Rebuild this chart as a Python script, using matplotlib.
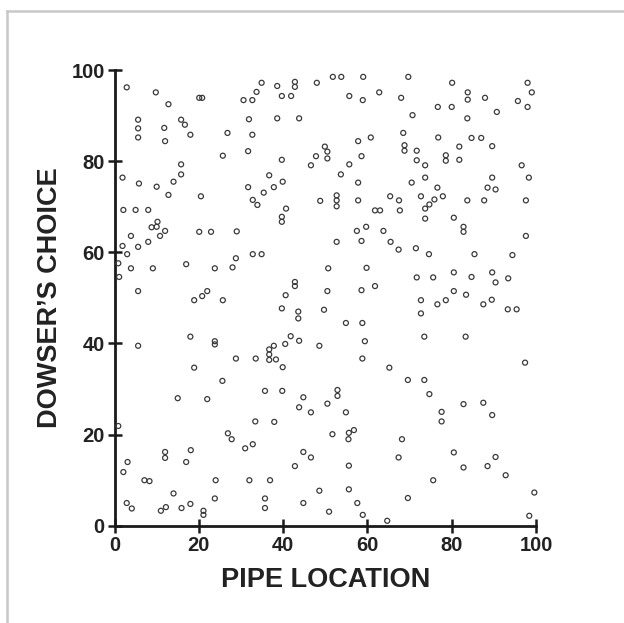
import matplotlib
matplotlib.use("Agg")
import matplotlib.pyplot as plt
from matplotlib.lines import Line2D

# pipe location (x) and dowser's choice (y)
pipe_location = [
    2.9, 9.8, 12.8, 20.1, 20.8, 30.6, 32.7,
    5.6, 5.6, 5.6, 11.8, 12.0, 15.8, 16.7, 18.0, 26.8, 32.7, 31.9, 25.7, 31.7,
    15.8, 15.8, 1.9, 5.8, 10.0, 14.0, 12.8, 20.5, 31.7, 32.8, 2.1, 5.0, 8.0,
    10.2, 8.8, 10.0, 12.0, 20.1, 22.9, 29.0,
    3.9, 10.8, 8.0, 5.6, 1.9, 3.0, 0.9, 3.9, 9.1, 1.1, 17.0, 23.8, 28.0, 28.8,
    32.8, 5.6, 18.9, 20.8, 22.0, 25.7, 5.6, 18.0, 23.8, 23.8, 28.8, 33.5,
    18.9, 25.6,
    15.0, 22.0, 0.9, 33.4, 26.9, 27.8, 31.0, 32.8, 12.0, 12.0, 18.1, 17.0,
    3.1, 2.1, 7.1, 8.3, 24.0, 32.0, 14.0, 23.8, 2.9, 4.1, 11.0, 12.2, 15.9,
    18.0, 21.1, 21.1,
    34.9, 38.6, 42.8, 42.8, 48.0, 51.8, 53.8, 59.0, 33.7, 39.7, 41.9, 55.7,
    58.9, 62.8, 38.6, 43.8, 57.8, 60.8, 49.9, 50.5, 50.5, 47.8, 46.6, 58.6,
    55.7, 53.7, 39.7, 57.8, 36.7, 39.9, 37.8, 35.4, 33.9, 40.7, 39.7, 39.7,
    48.8, 52.7, 52.7, 52.7, 57.8, 65.4, 67.5, 61.8, 63.0, 57.5, 59.7, 63.8,
    52.7, 58.6, 65.5, 67.4, 34.9, 50.7, 59.8, 42.8, 42.8, 40.6, 50.5, 58.6,
    61.8, 39.7, 43.6, 43.6, 49.7, 54.9, 58.8, 41.8, 43.8, 40.5, 37.8, 36.7,
    36.7, 36.7, 38.3, 48.6, 59.4, 58.8, 39.9, 65.2,
    35.7, 39.8, 44.8, 43.8, 46.6, 52.9, 52.9, 50.5, 54.9, 37.9, 51.7, 55.6,
    56.8, 55.5, 44.8, 46.6, 42.8, 55.6, 36.9, 48.6, 55.6, 35.7, 35.7, 44.8,
    57.6, 50.9, 58.9, 64.7,
    69.7, 80.1, 98.0, 99.0, 83.8, 83.8, 87.9, 68.0, 76.7, 80.0, 95.7, 98.0,
    90.7, 70.7, 83.7, 68.5, 76.8, 84.7, 87.0, 68.8, 68.8, 71.7, 71.7, 73.7,
    81.8, 81.8, 78.6, 78.6, 89.6, 96.6, 98.3, 89.6, 73.7, 70.5, 76.6, 88.5,
    90.4, 77.9, 75.9, 74.7, 73.7, 72.7, 67.7, 83.7, 87.7, 97.6, 73.7, 80.5,
    82.8, 82.8, 97.6,
    71.5, 74.6, 85.4, 94.4, 71.7, 75.6, 80.5, 84.7, 89.6, 90.4, 93.4, 72.7,
    72.7, 76.6, 78.6, 80.5, 83.4, 87.5, 89.5, 93.3, 95.4, 73.5, 83.3, 97.4,
    69.6, 73.5,
    74.7, 82.8, 87.5, 77.6, 77.6, 89.6, 68.2, 67.4, 80.5, 82.8, 88.5, 90.4,
    92.8, 75.6, 69.6, 99.6, 98.4,
]
dowser_choice = [
    96.2, 95.1, 92.5, 93.9, 93.9, 93.4, 93.4,
    89.1, 87.2, 85.2, 87.3, 84.4, 89.1, 88.0, 85.8, 86.2, 85.8, 89.2, 81.2, 82.2,
    79.3, 77.1, 76.4, 75.1, 74.4, 75.5, 72.6, 72.3, 74.3, 71.5, 69.3, 69.3, 69.3,
    66.7, 65.5, 65.6, 64.7, 64.5, 64.5, 64.6,
    63.6, 63.6, 62.3, 61.2, 61.4, 59.6, 57.6, 56.5, 56.5, 54.6, 57.4, 56.5, 56.7, 58.7,
    59.6, 51.5, 49.5, 50.4, 51.5, 49.5, 39.5, 41.5, 39.8, 40.5, 36.7, 36.7,
    34.7, 31.8,
    28.0, 27.8, 21.9, 22.9, 20.3, 19.0, 17.0, 17.9, 16.2, 14.9, 16.6, 14.0,
    14.0, 11.8, 10.0, 9.8, 10.0, 10.0, 7.1, 6.0, 5.0, 3.8, 3.3, 4.1, 3.9,
    4.8, 3.3, 2.4,
    97.2, 96.5, 97.4, 96.3, 97.2, 98.5, 98.5, 98.5, 95.2, 94.3, 94.3, 94.3,
    93.4, 95.1, 89.4, 89.4, 84.4, 85.2, 83.2, 82.1, 80.6, 81.1, 79.1, 81.1,
    79.3, 77.1, 80.3, 75.3, 76.9, 75.5, 74.3, 73.1, 70.4, 69.6, 67.8, 66.7,
    71.3, 72.5, 71.4, 70.1, 71.4, 72.3, 71.4, 69.2, 69.2, 64.7, 65.6, 64.7,
    62.3, 62.5, 62.3, 60.6, 59.6, 56.5, 56.6, 53.5, 52.6, 50.6, 51.5, 51.7,
    52.6, 47.7, 47.0, 45.5, 47.4, 44.5, 44.5, 41.6, 40.6, 39.9, 39.5, 38.7,
    37.6, 36.4, 36.5, 39.5, 40.5, 36.7, 34.8, 34.7,
    29.6, 29.6, 28.2, 26.0, 24.9, 29.8, 28.5, 26.8, 24.9, 22.8, 20.1, 20.4,
    21.0, 19.0, 16.2, 15.0, 13.1, 13.2, 10.0, 7.7, 8.0, 6.0, 3.9, 5.0,
    5.0, 3.1, 2.4, 1.1,
    98.5, 97.2, 97.2, 95.1, 95.1, 93.5, 93.9, 93.9, 91.9, 91.9, 93.2, 91.9,
    90.8, 90.1, 89.4, 86.2, 85.2, 85.1, 85.1, 83.5, 82.3, 82.3, 80.2, 79.1,
    83.2, 80.3, 81.3, 80.1, 83.3, 79.1, 76.4, 76.4, 76.4, 75.3, 74.2, 74.2,
    73.8, 72.3, 71.6, 70.5, 69.6, 72.3, 69.2, 71.4, 71.4, 71.4, 67.4, 67.6,
    65.6, 64.5, 63.6,
    60.9, 59.6, 59.6, 59.4, 54.5, 54.5, 55.6, 54.6, 55.6, 53.4, 54.3, 49.5,
    46.6, 48.6, 49.5, 51.5, 50.7, 48.6, 49.6, 47.5, 47.5, 41.5, 41.5, 35.8,
    32.0, 32.0,
    28.9, 26.7, 27.0, 25.0, 22.9, 24.3, 19.0, 15.0, 16.1, 12.8, 13.1, 15.1,
    11.1, 10.0, 6.1, 7.3, 2.2,
]
tick_values = [0, 20, 40, 60, 80, 100]

plt.rcParams['font.family'] = ['Liberation Sans', 'DejaVu Sans']

fig = plt.figure(figsize=(6.24, 6.23), dpi=100)
ax = fig.add_axes([0.1835, 0.156, 0.6755, 0.7316])

ax.scatter(pipe_location, dowser_choice, s=13, facecolors='none',
           edgecolors='#3a3a3a', linewidths=0.9, clip_on=False, zorder=3)

ax.set_xlim(0, 100)
ax.set_ylim(0, 100)
ax.set_xticks(tick_values)
ax.set_yticks(tick_values)
for side in ['top', 'right']:
    ax.spines[side].set_visible(False)
for side in ['left', 'bottom']:
    ax.spines[side].set_linewidth(2)
    ax.spines[side].set_color('#1a1a1a')
ax.tick_params(direction='inout', length=10, width=1.8, color='#1a1a1a',
               labelsize=14.5, pad=2)
for lab in ax.get_xticklabels() + ax.get_yticklabels():
    lab.set_fontweight('bold')
    lab.set_color('#222222')

ax.set_xlabel('PIPE LOCATION', fontsize=19.5, fontweight='bold', color='#222222', labelpad=9)
ax.set_ylabel('DOWSER\u2019S CHOICE', fontsize=19.5, fontweight='bold', color='#222222', labelpad=6)

# light grey frame round the picture (top and left only)
fig.add_artist(Line2D([7 / 624, 1], [1 - 11 / 623, 1 - 11 / 623], color='#c8c8c8', lw=1.8))
fig.add_artist(Line2D([7 / 624, 7 / 624], [0, 1 - 11 / 623], color='#c8c8c8', lw=1.8))

fig.savefig('out.png', dpi=100)
